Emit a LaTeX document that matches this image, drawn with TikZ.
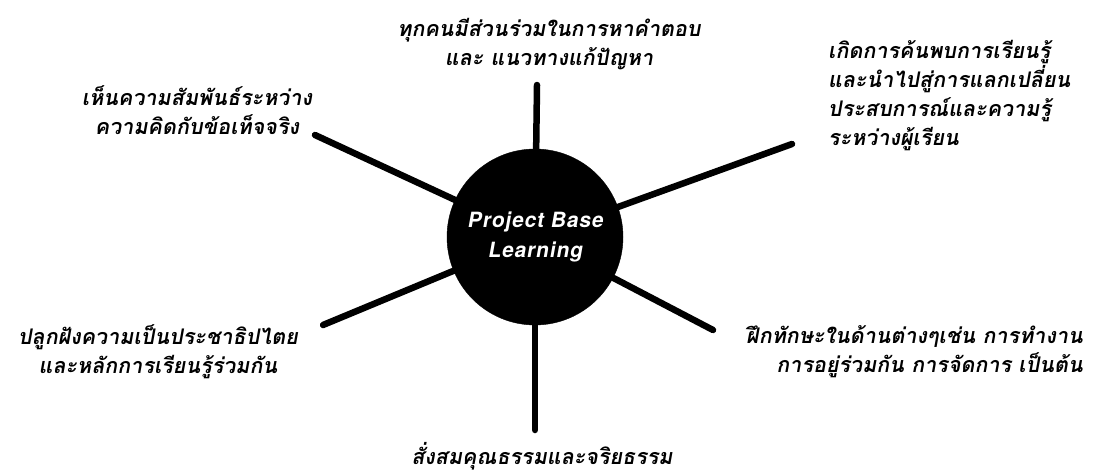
\documentclass[tikz,border=0pt]{standalone}
\usepackage{fontspec}
\newfontfamily\thai[Script=Thai,FakeSlant=0.18]{Loma}
\newfontfamily\heros[FakeSlant=0.18,LetterSpace=4]{TeX Gyre Heros}
\begin{document}
\begin{tikzpicture}[x=1pt,y=-1pt,
  spoke/.style={line width=6.5pt,line cap=round,black},
  lbl/.style={font=\thai\bfseries\fontsize{21.5}{29}\selectfont,text=black,inner sep=0pt},
  hub/.style={circle,fill=black,draw=black,minimum size=176pt,inner sep=0pt,
    text=white,align=center,font=\heros\bfseries\fontsize{21}{30}\selectfont}]
\useasboundingbox (0,0) rectangle (1097,474);
\node[hub] (c) at (535,237) {Project Base\\Learning};
\coordinate (eT) at (537,85);
\coordinate (eB) at (535,430);
\coordinate (eUL) at (315,135);
\coordinate (eUR) at (792,144);
\coordinate (eLL) at (323,325);
\coordinate (eLR) at (713,330);
\foreach \e in {eT,eB,eUL,eUR,eLL,eLR} \draw[spoke] (c) -- (\e);
\node[lbl,align=center] (t1) at (549,44) {ทุกคนมีส่วนร่วมในการหาคำตอบ\\และ แนวทางแก้ปัญหา};
\node[lbl,align=center] (t2) at (197,110) {เห็นความสัมพันธ์ระหว่าง\\ความคิดกับข้อเท็จจริง};
\node[lbl,align=left,anchor=west] (t3) at (828,96) {เกิดการค้นพบการเรียนรู้\\และนำไปสู่การแลกเปลี่ยน\\ประสบการณ์และความรู้\\ระหว่างผู้เรียน};
\node[lbl,align=center] (t4) at (158,352) {ปลูกฝังความเป็นประชาธิปไตย\\และหลักการเรียนรู้ร่วมกัน};
\node[lbl,align=right,anchor=east] (t5) at (1083,352) {ฝึกทักษะในด้านต่างๆเช่น การทำงาน\\การอยู่ร่วมกัน การจัดการ เป็นต้น};
\node[lbl] (t6) at (542,456) {สั่งสมคุณธรรมและจริยธรรม};
\end{tikzpicture}
\end{document}
